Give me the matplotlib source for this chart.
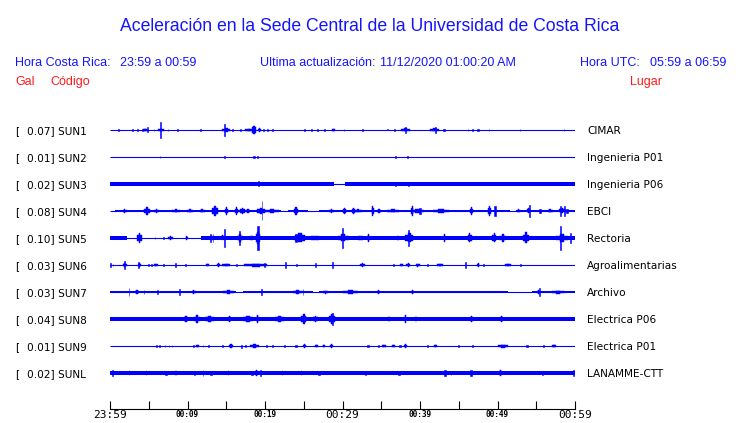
import matplotlib
matplotlib.use('Agg')
import matplotlib.pyplot as plt

W, H = 740, 423
BLUE = '#0000ff'
TXT_BLUE = '#1414ff'
RED = '#ff1a1a'
ROW_PX = 27.0  # distancia vertical entre trazas, en pixeles

# --- datos ---
codes = ['SUN1', 'SUN2', 'SUN3', 'SUN4', 'SUN5', 'SUN6', 'SUN7', 'SUN8', 'SUN9', 'SUNL']
gal = [0.07, 0.01, 0.02, 0.08, 0.10, 0.03, 0.03, 0.04, 0.01, 0.02]
places = ['CIMAR', 'Ingenieria P01', 'Ingenieria P06', 'EBCI', 'Rectoria',
          'Agroalimentarias', 'Archivo', 'Electrica P06', 'Electrica P01', 'LANAMME-CTT']
tick_min = list(range(0, 61, 5))
tick_txt = ['23:59', '', '00:09', '', '00:19', '', '00:29', '', '00:39', '', '00:49', '', '00:59']

# ruido continuo: (inicio min, fin min, media altura px)
band_sun1 = []
band_sun2 = []
band_sun3 = [(0.0, 28.9, 1.6), (30.3, 60.0, 1.6)]
band_sun4 = [(0.6, 22.0, 1.1), (23.0, 25.5, 1.1), (27.0, 51.6, 1.1), (52.4, 60.0, 1.1)]
band_sun5 = [(0.0, 2.2, 1.7), (11.8, 60.0, 1.7)]
band_sun6 = []
band_sun7 = [(0.0, 16.2, 1.5), (17.2, 26.2, 1.5), (27.0, 51.4, 1.5), (54.5, 60.0, 1.5)]
band_sun8 = [(0.0, 60.0, 1.7)]
band_sun9 = []
band_sunl = [(0.0, 60.0, 1.9)]

# rafagas: (centro min, duracion min, media altura px)
ev_sun1 = [(1.08, 0.1, 0.7), (2.9, 0.1, 0.6), (3.5, 0.1, 0.6), (4.2, 0.1, 0.7), (4.5, 0.5, 1.3),
           (4.8, 0.08, 2.5), (5.7, 0.08, 0.7), (6.6, 0.75, 1.4), (6.5, 0.08, 8.3), (7.5, 0.08, 0.7),
           (8.7, 0.08, 0.7), (11.7, 0.08, 0.7), (15.0, 1.0, 1.6), (14.8, 0.08, 6.0), (15.8, 0.1, 1.0),
           (16.8, 0.15, 1.2), (17.9, 0.9, 1.2), (18.6, 0.5, 4.3), (19.3, 0.4, 1.7), (19.8, 0.1, 1.2),
           (20.3, 0.1, 1.0), (21.0, 0.15, 1.2), (25.1, 0.08, 0.6), (26.0, 0.08, 0.6), (26.8, 0.08, 0.6),
           (27.7, 0.08, 0.6), (28.8, 0.4, 1.2), (30.2, 0.08, 0.8), (32.6, 0.08, 0.8), (35.8, 0.08, 0.5),
           (36.7, 0.08, 0.6), (38.1, 1.1, 1.5), (38.1, 0.2, 3.3), (41.9, 1.2, 1.5), (42.0, 0.2, 3.3),
           (43.0, 0.1, 1.2), (43.2, 0.1, 1.2), (46.2, 0.08, 0.8), (46.8, 0.08, 0.8), (47.5, 0.2, 1.0),
           (48.9, 0.08, 0.6), (52.9, 0.08, 1.0), (58.6, 0.08, 1.0)]
ev_sun2 = [(6.45, 0.08, 1.0), (14.8, 0.15, 1.0), (18.6, 0.2, 1.2), (19.0, 0.08, 1.0),
           (36.8, 0.08, 1.0), (38.4, 0.08, 1.0)]
ev_sun3 = [(19.2, 0.15, 2.5), (36.8, 0.1, 2.1), (38.5, 0.15, 2.2)]
ev_sun4 = [(1.9, 0.5, 2.0), (4.8, 0.7, 4.0), (6.0, 0.6, 1.7), (8.5, 1.0, 1.5), (10.3, 0.8, 1.5),
           (11.9, 0.6, 1.5), (13.5, 0.8, 5.0), (15.0, 0.4, 4.0), (16.3, 0.35, 4.0), (17.1, 0.6, 3.3),
           (17.8, 0.6, 2.0), (19.5, 1.0, 3.3), (19.6, 0.1, 9.5), (20.9, 1.7, 1.8), (24.0, 0.4, 4.0),
           (28.6, 0.6, 2.0), (30.3, 0.4, 3.3), (31.4, 0.4, 3.3), (32.0, 1.0, 1.5), (33.9, 0.3, 5.0),
           (34.7, 0.6, 2.0), (36.5, 1.5, 1.5), (39.0, 0.3, 4.7), (40.0, 0.2, 3.3), (39.7, 1.7, 1.8),
           (42.7, 2.0, 1.8), (46.7, 0.4, 4.0), (49.0, 0.4, 5.0), (49.7, 0.2, 4.7), (52.7, 0.3, 1.5),
           (54.1, 0.1, 6.0), (54.0, 0.5, 2.5), (55.5, 0.2, 2.0), (56.8, 0.6, 1.5), (58.1, 0.1, 5.0),
           (58.6, 0.1, 5.0), (58.3, 0.8, 2.5), (59.0, 0.2, 1.7)]
ev_sun5 = [(3.8, 0.6, 4.7), (5.8, 0.1, 1.3), (6.9, 0.15, 1.3), (7.8, 0.6, 1.7), (9.9, 0.3, 1.7),
           (13.2, 0.6, 2.3), (13.0, 0.1, 4.0), (13.3, 0.1, 4.0), (14.8, 0.1, 9.0), (14.5, 0.4, 2.5),
           (16.8, 0.8, 4.0), (16.7, 0.1, 7.3), (18.3, 1.0, 2.3), (19.1, 0.5, 6.0), (19.1, 0.15, 11.7),
           (24.5, 1.2, 4.5), (24.0, 0.2, 4.0), (26.5, 3.0, 2.2), (30.1, 1.4, 3.5), (30.0, 0.1, 10.0),
           (32.3, 2.0, 2.2), (33.3, 0.4, 4.0), (37.2, 0.8, 2.3), (38.6, 1.0, 4.5), (38.5, 0.1, 8.3),
           (43.2, 0.3, 4.0), (46.4, 0.5, 4.5), (49.6, 0.5, 4.5), (50.7, 0.9, 4.0), (53.7, 0.7, 5.5),
           (58.1, 0.1, 12.3), (58.3, 1.6, 4.0), (59.4, 0.1, 5.0)]
ev_sun6 = [(0.1, 0.1, 2.0), (0.4, 0.1, 1.0), (1.9, 0.1, 4.0), (1.9, 0.5, 1.7), (3.7, 0.1, 3.3),
           (3.8, 0.4, 1.7), (5.0, 0.1, 1.3), (5.4, 0.1, 1.3), (5.9, 0.5, 1.3), (6.9, 0.1, 1.3),
           (8.5, 0.1, 2.0), (9.7, 0.1, 1.3), (12.6, 0.4, 1.3), (14.0, 0.4, 2.0), (15.0, 1.0, 1.3),
           (16.3, 0.2, 1.3), (18.8, 3.0, 1.5), (19.9, 0.1, 2.0), (22.6, 0.15, 3.0), (24.1, 0.1, 1.3),
           (26.5, 0.1, 2.0), (28.7, 0.2, 3.3), (32.6, 0.6, 1.7), (36.6, 0.1, 1.0), (37.6, 0.4, 1.3),
           (38.5, 0.5, 1.7), (39.7, 0.5, 1.5), (41.0, 0.1, 1.0), (42.6, 0.8, 1.3), (45.9, 0.1, 3.3),
           (47.5, 0.3, 2.0), (48.2, 0.1, 1.0), (51.4, 0.8, 1.3), (53.0, 0.1, 1.0)]
ev_sun7 = [(2.45, 0.08, 4.0), (3.5, 0.5, 2.3), (4.4, 0.1, 1.7), (6.1, 0.1, 1.7), (9.0, 0.1, 3.3),
           (10.8, 0.5, 1.7), (15.3, 1.4, 1.8), (19.5, 0.1, 3.3), (24.2, 1.2, 2.3), (24.9, 0.1, 3.3),
           (27.8, 0.6, 1.5), (31.0, 2.0, 1.8), (34.6, 0.4, 2.0), (39.0, 0.4, 2.3), (55.4, 0.1, 4.0),
           (55.3, 0.4, 2.0), (57.8, 1.5, 1.5)]
ev_sun8 = [(9.8, 0.5, 2.7), (11.2, 0.8, 4.0), (12.8, 1.2, 2.7), (15.4, 0.4, 3.3), (17.8, 1.2, 2.7),
           (19.0, 0.4, 4.0), (21.9, 1.2, 2.7), (25.0, 0.7, 4.7), (26.5, 0.6, 3.3), (28.6, 0.8, 5.0),
           (28.7, 0.1, 5.7), (36.0, 0.6, 2.3), (38.1, 0.3, 4.0), (39.5, 1.0, 2.3), (46.7, 0.4, 3.3),
           (50.5, 0.4, 3.3)]
ev_sun9 = [(6.0, 0.1, 1.0), (6.4, 0.1, 1.2), (7.1, 0.1, 1.0), (7.6, 0.1, 1.2), (8.0, 0.1, 1.0),
           (10.8, 0.1, 1.2), (11.3, 0.3, 1.2), (12.0, 0.1, 1.0), (12.7, 0.1, 1.0), (14.5, 0.2, 1.2),
           (15.6, 0.6, 1.7), (17.0, 0.1, 1.5), (17.5, 0.2, 1.2), (18.6, 1.2, 1.7), (20.2, 0.1, 1.0),
           (21.0, 0.1, 1.0), (22.5, 0.1, 1.0), (24.0, 0.2, 1.2), (25.1, 0.3, 1.7), (26.6, 0.4, 1.2),
           (27.6, 0.3, 1.2), (28.6, 0.4, 1.7), (33.3, 0.2, 1.2), (34.6, 0.1, 1.0), (35.3, 0.5, 1.2),
           (36.6, 0.3, 1.2), (37.4, 0.2, 1.2), (38.1, 0.4, 1.7), (41.0, 0.1, 1.0), (42.0, 0.3, 1.2),
           (45.0, 0.1, 1.0), (46.8, 0.1, 1.0), (50.7, 1.4, 1.5), (53.8, 0.2, 1.2), (55.9, 0.1, 1.0),
           (57.3, 0.6, 1.0)]
ev_sunl = [(0.3, 0.1, 2.6), (2.5, 0.4, 2.4), (4.7, 0.4, 2.4), (7.2, 0.2, 2.4), (8.5, 0.5, 2.4),
           (10.9, 0.2, 2.4), (12.0, 0.1, 2.6), (13.0, 0.2, 2.4), (15.3, 0.5, 2.4), (18.3, 0.2, 2.4),
           (18.9, 0.5, 2.6), (19.4, 0.2, 2.6), (22.3, 0.3, 2.4), (24.7, 0.3, 2.4), (27.0, 0.2, 2.4),
           (33.0, 0.1, 2.4), (37.3, 0.2, 2.4), (43.2, 0.2, 2.6), (44.0, 0.1, 2.4), (46.6, 0.2, 2.6),
           (50.4, 0.3, 2.6), (55.8, 0.1, 2.4), (59.8, 0.2, 2.6)]

bands = [band_sun1, band_sun2, band_sun3, band_sun4, band_sun5,
         band_sun6, band_sun7, band_sun8, band_sun9, band_sunl]
events = [ev_sun1, ev_sun2, ev_sun3, ev_sun4, ev_sun5,
          ev_sun6, ev_sun7, ev_sun8, ev_sun9, ev_sunl]


def fx(x):
    return x / W


def fy(y):
    return 1 - y / H


fig = plt.figure(figsize=(W / 100, H / 100), dpi=100)

# encabezado
hdr = dict(family='Liberation Sans', fontsize=9, va='baseline', ha='left')
fig.text(fx(370), fy(31), 'Aceleración en la Sede Central de la Universidad de Costa Rica',
         family='Liberation Sans', fontsize=12.7, color=TXT_BLUE, ha='center', va='baseline')
fig.text(fx(15), fy(65.5), 'Hora Costa Rica:', color=TXT_BLUE, **hdr)
fig.text(fx(120), fy(65.5), '23:59 a 00:59', color=TXT_BLUE, **hdr)
fig.text(fx(260), fy(65.5), 'Ultima actualización:', color=TXT_BLUE, **hdr)
fig.text(fx(380), fy(65.5), '11/12/2020 01:00:20 AM', color=TXT_BLUE, **hdr)
fig.text(fx(580), fy(65.5), 'Hora UTC:', color=TXT_BLUE, **hdr)
fig.text(fx(650), fy(65.5), '05:59 a 06:59', color=TXT_BLUE, **hdr)
fig.text(fx(15), fy(85), 'Gal', color=RED, **hdr)
fig.text(fx(50), fy(85), 'Código', color=RED, **hdr)
fig.text(fx(630), fy(85), 'Lugar', color=RED, **hdr)

# trazas
ax = fig.add_axes([fx(110), fy(386.5), 465 / W, 270 / H])
ax.set_xlim(0, 60)
ax.set_ylim(len(codes) - 0.5, -0.5)
ax.axis('off')

for i in range(len(codes)):
    ax.plot([0, 60], [i, i], color=BLUE, lw=0.8, solid_capstyle='butt')
    for s, e, h in bands[i]:
        ax.fill_between([s, e], i - h / ROW_PX, i + h / ROW_PX, color=BLUE, lw=0)
    for t, d, h in events[i]:
        if d > 0.2:
            # rafaga ancha: hombros mas bajos y nucleo con la amplitud maxima
            ax.bar(t, 1.2 * h / ROW_PX, width=d, bottom=i - 0.6 * h / ROW_PX,
                   color=BLUE, edgecolor=BLUE, linewidth=0.3)
            ax.bar(t, 2 * h / ROW_PX, width=max(0.1, 0.35 * d), bottom=i - h / ROW_PX,
                   color=BLUE, edgecolor=BLUE, linewidth=0.3)
        else:
            ax.bar(t, 2 * h / ROW_PX, width=d, bottom=i - h / ROW_PX,
                   color=BLUE, edgecolor=BLUE, linewidth=0.4)

    yb = 130 + ROW_PX * i + 4
    lab = dict(family='DejaVu Sans', fontsize=7.6, va='baseline', ha='left', color='black')
    fig.text(fx(15), fy(yb), '[', **lab)
    fig.text(fx(27), fy(yb), '%.2f] %s' % (gal[i], codes[i]), **lab)
    fig.text(fx(587), fy(yb), places[i], **lab)

# eje de tiempo
tax = fig.add_axes([fx(110), fy(408.5), 465 / W, 0.0001])
tax.set_xlim(0, 60)
for sp in ['left', 'right', 'top']:
    tax.spines[sp].set_visible(False)
tax.spines['bottom'].set_linewidth(0.8)
tax.set_yticks([])
tax.set_xticks(tick_min)
tax.set_xticklabels(tick_txt)
tax.tick_params(axis='x', direction='in', length=5.8, width=0.8, pad=1.2)
for k, lbl in enumerate(tax.get_xticklabels()):
    lbl.set_fontfamily('DejaVu Sans Mono')
    if tick_txt[k] in ('23:59', '00:29', '00:59'):
        lbl.set_fontsize(8)
    else:
        lbl.set_fontsize(5.6)
        lbl.set_fontweight('bold')

fig.savefig('out.png', dpi=100)
